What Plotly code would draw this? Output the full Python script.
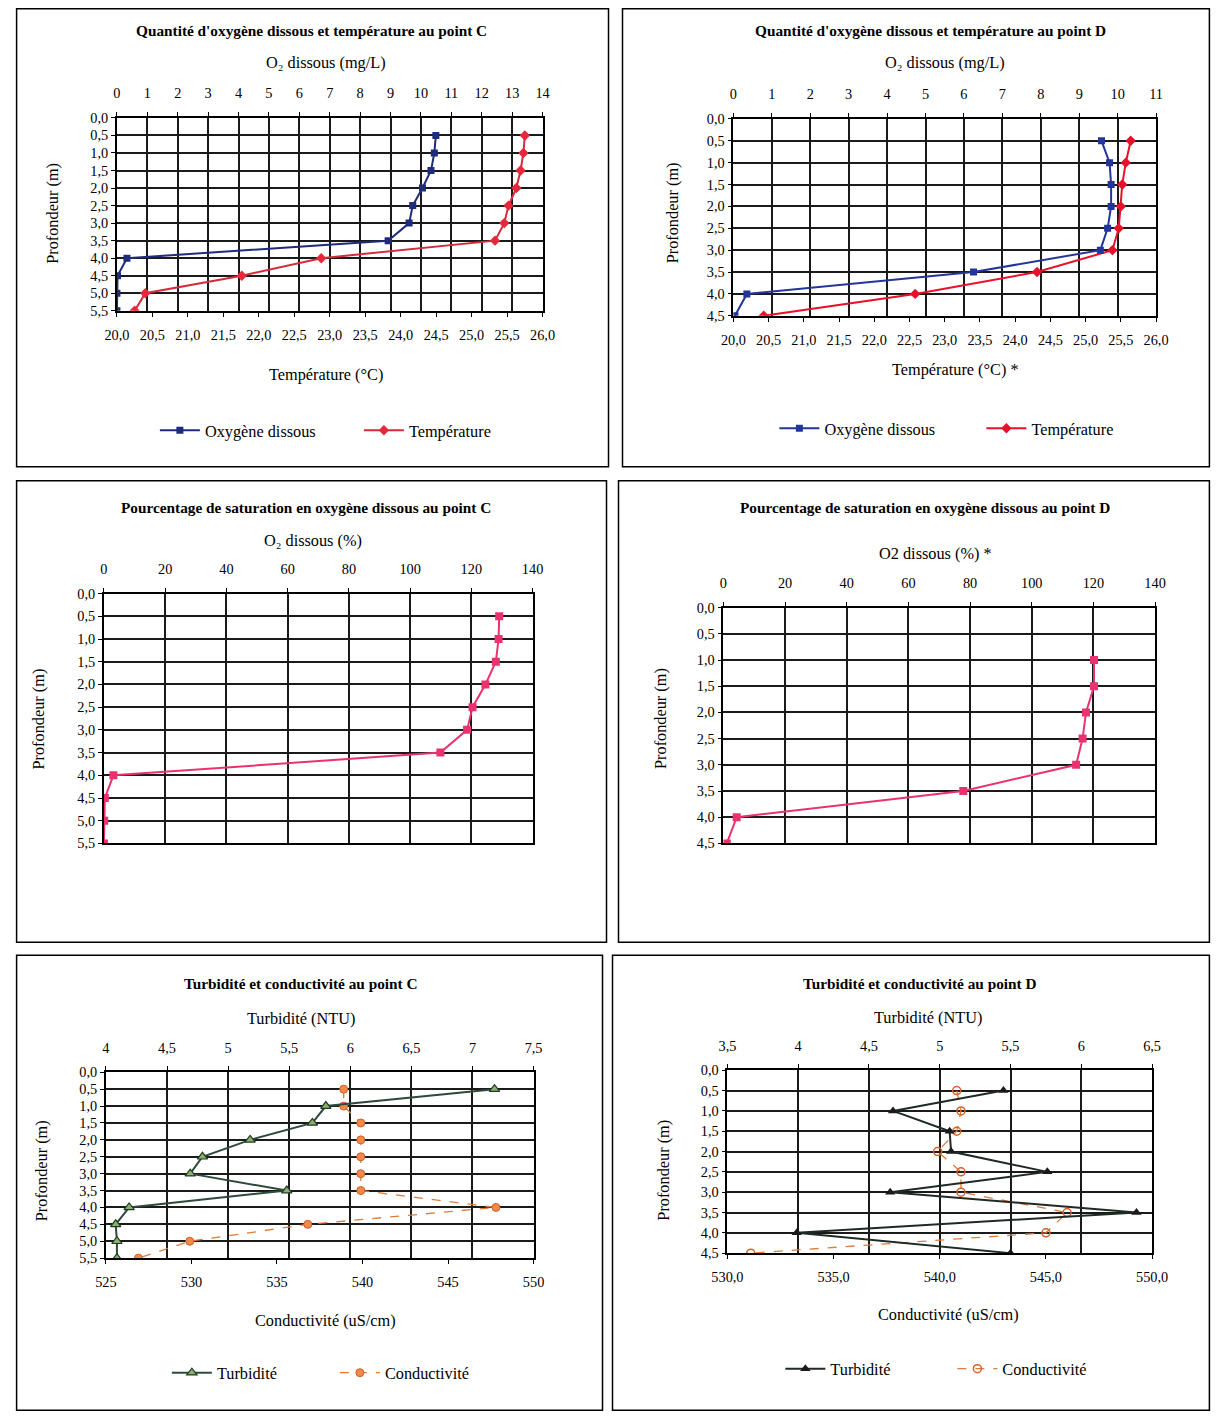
import plotly.graph_objects as go

W, H = 1226, 1419
# the photographed page shows the figure slightly shrunk and shifted; positions below are
# given in picture pixels and mapped back to figure pixels
SX, AX = 0.9747, 15.0
SY, AY = 0.9894, 7.0

# ---------------- data ----------------
depth_C = [0.5, 1.0, 1.5, 2.0, 2.5, 3.0, 3.5, 4.0, 4.5, 5.0, 5.5]
depth_D = [0.5, 1.0, 1.5, 2.0, 2.5, 3.0, 3.5, 4.0, 4.5]

o2_C_mgL = [10.49, 10.44, 10.33, 10.05, 9.73, 9.61, 8.92, 0.33, 0.02, 0.0, 0.0]
temp_C = [25.75, 25.73, 25.69, 25.63, 25.52, 25.46, 25.33, 22.88, 21.76, 20.40, 20.25]

o2_D_mgL = [9.58, 9.79, 9.83, 9.83, 9.74, 9.55, 6.25, 0.35, 0.04]
temp_D = [25.64, 25.57, 25.52, 25.50, 25.47, 25.38, 24.31, 22.58, 20.43]

sat_C = [129.1, 128.9, 128.0, 124.6, 120.4, 118.6, 109.9, 3.1, 0.3, 0.1, 0.0]
sat_D = [None, 120.2, 120.2, 117.6, 116.5, 114.4, 77.8, 4.3, 1.1]

turb_C = [7.18, 5.80, 5.69, 5.18, 4.79, 4.69, 5.48, 4.19, 4.08, 4.09, 4.09]
cond_C = [538.9, 538.9, 539.9, 539.9, 539.9, 539.9, 539.9, 547.8, 536.8, 529.9, 526.9]

turb_D = [5.45, 4.67, 5.07, 5.08, 5.76, 4.65, 6.39, 3.99, 5.50]
cond_D = [540.8, 541.0, 540.8, 539.9, 541.0, 541.0, 546.0, 545.0, 531.1]

titles = [
    "Quantité d'oxygène dissous et température au point C",
    "Quantité d'oxygène dissous et température au point D",
    "Pourcentage de saturation en oxygène dissous au point C",
    "Pourcentage de saturation en oxygène dissous au point D",
    "Turbidité et conductivité au point C",
    "Turbidité et conductivité au point D",
]

FONT = "Liberation Serif"


def fx(p):
    v = ((p - AX) / SX) / W
    return min(max(v, 0.0005), 0.9995)


def fy(p):
    v = 1 - ((p - AY) / SY) / H
    return min(max(v, 0.0005), 0.9995)


def fs(s):
    return round(s / 0.98, 1)


fig = go.Figure()

# ---------------- traces ----------------
fig.add_trace(go.Scatter(x=o2_C_mgL, y=depth_C, xaxis="x2", yaxis="y", name="Oxygène dissous",
                         mode="lines+markers", line=dict(color="#1F2B7B", width=2),
                         marker=dict(symbol="square", size=7, color="#1F2B7B"), legend="legend"))
fig.add_trace(go.Scatter(x=temp_C, y=depth_C, xaxis="x", yaxis="y", name="Température",
                         mode="lines+markers", line=dict(color="#D42A3A", width=2),
                         marker=dict(symbol="diamond", size=8, color="#E8283A"), legend="legend"))

fig.add_trace(go.Scatter(x=o2_D_mgL, y=depth_D, xaxis="x4", yaxis="y2", name="Oxygène dissous",
                         mode="lines+markers", line=dict(color="#23349A", width=2),
                         marker=dict(symbol="square", size=7, color="#23349A"), legend="legend2"))
fig.add_trace(go.Scatter(x=temp_D, y=depth_D, xaxis="x3", yaxis="y2", name="Température",
                         mode="lines+markers", line=dict(color="#E8102A", width=2),
                         marker=dict(symbol="diamond", size=8, color="#E8102A"), legend="legend2"))

fig.add_trace(go.Scatter(x=sat_C, y=depth_C, xaxis="x5", yaxis="y3", showlegend=False,
                         mode="lines+markers", line=dict(color="#E8336F", width=2),
                         marker=dict(symbol="square", size=8, color="#E8336F")))
fig.add_trace(go.Scatter(x=sat_D, y=depth_D, xaxis="x6", yaxis="y4", showlegend=False,
                         mode="lines+markers", line=dict(color="#E8336F", width=2),
                         marker=dict(symbol="square", size=8, color="#E8336F")))

fig.add_trace(go.Scatter(x=turb_C, y=depth_C, xaxis="x8", yaxis="y5", name="Turbidité",
                         mode="lines+markers", line=dict(color="#2F4A3C", width=2),
                         marker=dict(symbol="triangle-up", size=9, color="#8CB06A",
                                     line=dict(color="#1E3A28", width=1.2)), legend="legend3"))
fig.add_trace(go.Scatter(x=cond_C, y=depth_C, xaxis="x7", yaxis="y5", name="Conductivité",
                         mode="lines+markers", line=dict(color="#E07B39", width=1.3, dash="dash"),
                         marker=dict(symbol="circle", size=8, color="#F08A4B",
                                     line=dict(color="#D0602A", width=1)), legend="legend3"))

fig.add_trace(go.Scatter(x=turb_D, y=depth_D, xaxis="x10", yaxis="y6", name="Turbidité",
                         mode="lines+markers", line=dict(color="#1E2A24", width=2),
                         marker=dict(symbol="triangle-up", size=9, color="#1A1A1A"), legend="legend4"))
fig.add_trace(go.Scatter(x=cond_D, y=depth_D, xaxis="x9", yaxis="y6", name="Conductivité",
                         mode="lines+markers", line=dict(color="#E07B39", width=1.3, dash="dash"),
                         marker=dict(symbol="circle-open", size=8, color="#D8602A",
                                     line=dict(width=1.5)), legend="legend4"))

# ---------------- axes ----------------
tickfont = dict(family=FONT, size=fs(14), color="black")
GRID = "#1A1A1A"


def yaxis(top, bottom, maxd, anchor):
    return dict(domain=[fy(bottom), fy(top)], range=[maxd, 0], dtick=0.5, tick0=0,
                tickformat=".1f", showgrid=True, gridcolor=GRID, gridwidth=1.8,
                showline=True, linecolor="black", linewidth=1.8, mirror=True,
                ticks="outside", ticklen=4, tickcolor="black", tickfont=tickfont,
                zeroline=False, anchor=anchor)


def xbottom(left, right, rng, dtick, anchor, fmt=None):
    d = dict(domain=[fx(left), fx(right)], range=rng, dtick=dtick, tick0=rng[0], side="bottom",
             showgrid=False, showline=True, linecolor="black", linewidth=1.8, mirror=True,
             ticks="outside", ticklen=4, tickcolor="black", tickfont=tickfont,
             zeroline=False, anchor=anchor, ticklabelstandoff=6)
    if fmt:
        d["tickformat"] = fmt
    return d


def xtop(left, right, rng, dtick, anchor, overlay=None, fmt=None):
    d = dict(range=rng, dtick=dtick, tick0=rng[0], side="top",
             showgrid=True, gridcolor=GRID, gridwidth=1.8,
             showline=True, linecolor="black", linewidth=1.8, mirror=True,
             ticks="outside", ticklen=4, tickcolor="black", tickfont=tickfont,
             zeroline=False, anchor=anchor, ticklabelstandoff=8)
    if overlay:
        d["overlaying"] = overlay
    else:
        d["domain"] = [fx(left), fx(right)]
    if fmt:
        d["tickformat"] = fmt
    return d


layout_axes = {}
# panel 1
layout_axes["yaxis"] = yaxis(117, 310, 5.5, "x")
layout_axes["xaxis"] = xbottom(116, 542, [20, 26], 0.5, "y", ".1f")
layout_axes["xaxis2"] = xtop(116, 542, [0, 14], 1, "y", overlay="x")
# panel 2
layout_axes["yaxis2"] = yaxis(118, 315, 4.5, "x3")
layout_axes["xaxis3"] = xbottom(733, 1156, [20, 26], 0.5, "y2", ".1f")
layout_axes["xaxis4"] = xtop(733, 1156, [0, 11], 1, "y2", overlay="x3")
# panel 3
layout_axes["yaxis3"] = yaxis(593, 843, 5.5, "x5")
layout_axes["xaxis5"] = xtop(103, 532, [0, 140], 20, "y3")
# panel 4
layout_axes["yaxis4"] = yaxis(607, 843, 4.5, "x6")
layout_axes["xaxis6"] = xtop(723, 1155, [0, 140], 20, "y4")
# panel 5
layout_axes["yaxis5"] = yaxis(1072, 1258, 5.5, "x7")
layout_axes["xaxis7"] = xbottom(105, 533, [525, 550], 5, "y5")
layout_axes["xaxis8"] = xtop(105, 533, [4, 7.5], 0.5, "y5", overlay="x7")
# panel 6
layout_axes["yaxis6"] = yaxis(1070, 1253, 4.5, "x9")
layout_axes["xaxis9"] = xbottom(727, 1152, [530, 550], 5, "y6", ".1f")
layout_axes["xaxis10"] = xtop(727, 1152, [3.5, 6.5], 0.5, "y6", overlay="x9")

# ---------------- annotations ----------------
ann = []


def text(x, y, s, size=16, bold=False, angle=0):
    ann.append(dict(x=fx(x), y=fy(y), xref="paper", yref="paper", text=("<b>%s</b>" % s) if bold else s,
                    showarrow=False, xanchor="center", yanchor="middle", textangle=angle,
                    font=dict(family=FONT, size=fs(size), color="black")))


text(311, 30, titles[0], 15, True)
text(325, 62, "O₂ dissous (mg/L)")
text(325, 374, "Température (°C)")
text(52, 212, "Profondeur (m)", 16, False, -90)

text(930, 30, titles[1], 15, True)
text(945, 62, "O₂ dissous (mg/L)")
text(955, 369, "Température (°C) *")
text(672, 212, "Profondeur (m)", 16, False, -90)

text(305, 507, titles[2], 15, True)
text(312, 540, "O₂ dissous (%)")
text(38, 718, "Profondeur (m)", 16, False, -90)

text(925, 507, titles[3], 15, True)
text(935, 553, "O2 dissous (%) *")
text(660, 718, "Profondeur (m)", 16, False, -90)

text(300, 983, titles[4], 15, True)
text(300, 1018, "Turbidité (NTU)")
text(325, 1320, "Conductivité (uS/cm)")
text(40, 1170, "Profondeur (m)", 16, False, -90)

text(920, 983, titles[5], 15, True)
text(928, 1017, "Turbidité (NTU)")
text(948, 1314, "Conductivité (uS/cm)")
text(663, 1170, "Profondeur (m)", 16, False, -90)

# ---------------- panel frames ----------------
boxes = [(1, 3, 608, 466), (622, 3, 1225, 466), (1, 480, 606, 942),
         (618, 480, 1225, 942), (1, 955, 602, 1418), (612, 955, 1225, 1418)]
shapes = [dict(type="rect", xref="paper", yref="paper", x0=fx(a), x1=fx(c), y0=fy(d), y1=fy(b),
               line=dict(color="black", width=1.5), layer="below") for a, b, c, d in boxes]


def legend(left, cy, spacing):
    return dict(x=fx(left - 6), y=fy(cy), xanchor="left", yanchor="middle", orientation="h",
                font=dict(family=FONT, size=fs(16), color="black"), bgcolor="rgba(0,0,0,0)",
                itemwidth=40, entrywidth=spacing - 53, tracegroupgap=0)


fig.update_layout(
    width=W, height=H, margin=dict(l=0, r=0, t=0, b=0),
    paper_bgcolor="white", plot_bgcolor="white",
    separators=", ",
    annotations=ann, shapes=shapes,
    legend=legend(160, 430, 202), legend2=legend(780, 428, 205),
    legend3=legend(172, 1373, 166), legend4=legend(786, 1369, 170),
    **layout_axes,
)

fig.write_html(
    "out.html",
    config={"displayModeBar": False},
    post_script="document.body.style.margin='0';document.body.style.overflow='hidden';"
                "document.documentElement.style.overflow='hidden';",
)
